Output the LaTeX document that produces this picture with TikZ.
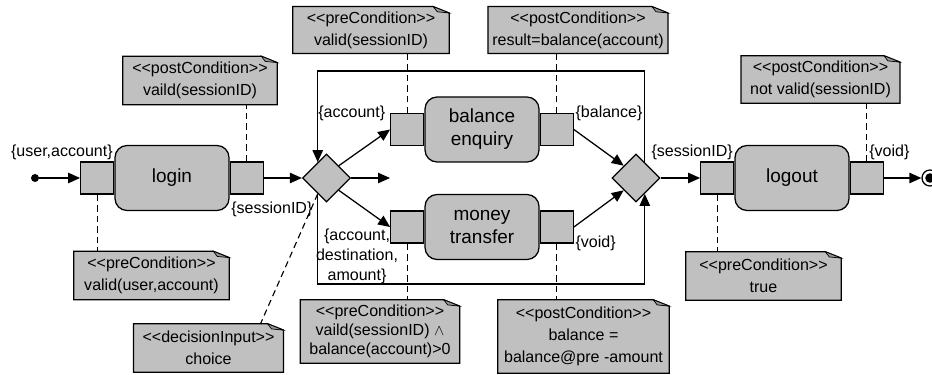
\documentclass[tikz,border=0pt]{standalone}
\usepackage{fontspec}
\setmainfont{Liberation Sans}
\usepackage{tikz}
\usetikzlibrary{arrows.meta}
\usetikzlibrary{shapes.geometric}
\usetikzlibrary{backgrounds}
\definecolor{umlgray}{RGB}{192,192,192}
\definecolor{foldgray}{RGB}{150,150,150}
\newcommand{\stereo}[1]{<{}<#1>{}>}
\newcommand{\dogear}[1]{%
  \filldraw[fill=umlgray,line width=0.9pt] (#1.south west) -- (#1.north west) -- ([xshift=-0.4cm]#1.north east)
    -- ([yshift=-0.16cm]#1.north east) -- (#1.south east) -- cycle;
  \filldraw[fill=foldgray,line width=0.5pt] ([xshift=-0.4cm]#1.north east) -- ([yshift=-0.16cm]#1.north east)
    -- ([xshift=-0.3cm,yshift=-0.13cm]#1.north east) -- cycle;}

\begin{document}
\begin{tikzpicture}
\tikzset{>={Triangle[width=2.6mm,length=3mm]}}
\tikzstyle{actionbox}=[rectangle, rounded corners=3mm, draw, fill=umlgray, line width=0.9pt, minimum width=2.85cm, minimum height=1.625cm, align=center, font=\fontsize{13.5}{16.4}\selectfont]
\tikzstyle{pinbox}=[rectangle, draw, fill=umlgray, line width=0.9pt, minimum width=0.825cm, minimum height=0.8cm, inner sep=0pt]
\tikzstyle{decisionbox}=[diamond, draw, fill=umlgray, line width=0.9pt, minimum size=1.2cm, inner sep=0pt]
\tikzstyle{notebox}=[align=center, inner xsep=0.22cm, minimum width=3.85cm, minimum height=1.2cm, font=\fontsize{11.4}{15.6}\selectfont]
\tikzstyle{lbl}=[inner sep=1pt, font=\fontsize{11.4}{14.2}\selectfont]
\tikzstyle{flow}=[->, line width=0.9pt]
\tikzstyle{anchorline}=[dash pattern=on 4.5pt off 3pt, line width=0.8pt]

\useasboundingbox (0,0) rectangle (23.3,9.35);

\node[circle, fill=black, minimum size=0.2cm, inner sep=0pt] (start) at (0.875,4.9) {};
\node[actionbox] (login) at (4.3,4.9) {login};
\node[pinbox, anchor=east] (loginin) at (login.west) {};
\node[pinbox, anchor=west] (loginout) at (login.east) {};
\node[decisionbox] (d1) at (8.1625,4.9) {};
\coordinate (stub) at (9.75,4.9);
\node[actionbox] (bal) at (12.05,6.1125) {balance\\enquiry};
\node[pinbox, anchor=east] (balin) at (bal.west) {};
\node[pinbox, anchor=west] (balout) at (bal.east) {};
\node[actionbox] (money) at (12.05,3.675) {money\\transfer};
\node[pinbox, anchor=east] (monin) at (money.west) {};
\node[pinbox, anchor=west] (monout) at (money.east) {};
\node[decisionbox] (d2) at (15.9,4.9) {};
\node[actionbox] (logout) at (19.8,4.9) {logout};
\node[pinbox, anchor=east] (logoutin) at (logout.west) {};
\node[pinbox, anchor=west] (logoutout) at (logout.east) {};
\node[circle, draw, fill=white, line width=0.9pt, minimum size=0.4cm, inner sep=0pt] (final) at (23.25,4.9) {};
\fill (final) circle (0.12);
\coordinate (looptop) at (0,7.575);
\coordinate (loopbot) at (0,2.25);

\node[notebox] (n1) at (5.0,7.3375) {\stereo{postCondition}\\vaild(sessionID)};
\node[notebox, minimum width=3.875cm] (n2) at (3.7875,2.4625) {\stereo{preCondition}\\valid(user,account)};
\node[notebox, minimum width=3.9cm, minimum height=1.15cm] (n3) at (9.275,8.6) {\stereo{preCondition}\\valid(sessionID)};
\node[notebox, inner xsep=0.1cm, minimum height=1.15cm] (n4) at (14.45,8.6) {\stereo{postCondition}\\result=balance(account)};
\node[notebox, minimum height=1.575cm, font=\fontsize{11.4}{13.5}\selectfont] (n5) at (9.5,1.0625) {\stereo{preCondition}\\vaild(sessionID) $\wedge$\\balance(account)>0};
\node[notebox, inner xsep=0.15cm, minimum height=1.825cm] (n6) at (14.5875,0.9375) {\stereo{postCondition}\\balance =\\balance@pre -amount};
\node[notebox, minimum width=3.875cm, minimum height=1.175cm] (n7) at (20.5125,7.3625) {\stereo{postCondition}\\not valid(sessionID)};
\node[notebox, minimum width=3.875cm] (n8) at (19.0875,2.45) {\stereo{preCondition}\\true};
\node[notebox, minimum width=3.475cm] (n9) at (5.2125,0.65) {\stereo{decisionInput}\\choice};

\node[lbl, anchor=south east] (lua) at (loginin.north east) {\{user,account\}};
\node[lbl, anchor=north west] (lsid) at ([yshift=-0.15cm]loginout.south west) {\{sessionID\}};
\node[lbl, anchor=east] (lacc) at ([xshift=-0.08cm]balin.north west) {\{account\}};
\node[lbl, anchor=west] (lbal) at (balout.north east) {\{balance\}};
\node[lbl, anchor=north east, align=center] (lmin) at ([xshift=0.24cm]monin.west) {\{account,\\destination,\\amount\}};
\node[lbl, anchor=west] (lvoid) at (monout.south east) {\{void\}};
\node[lbl, anchor=south east] (lsid2) at (logoutin.north east) {\{sessionID\}};
\node[lbl, anchor=south west] (lvoid2) at ([xshift=0.45cm]logoutout.north west) {\{void\}};

\draw[flow] (start) -- (loginin);
\draw[flow] (loginout) -- (d1);
\draw[flow] (d1) -- (stub);
\draw[flow] (d1.north east) -- (balin.west);
\draw[flow] (d1.south east) -- (monin.west);
\draw[flow] (balout.east) -- (d2.north west);
\draw[flow] (monout.east) -- (d2.south west);
\draw[flow] (d2) -- (logoutin);
\draw[flow] (logoutout) -- (final);
\draw[flow] (d2.61) |- (d1.119 |- looptop) -- (d1.119);
\draw[flow] (d1.241) |- (d2.299 |- loopbot) -- (d2.299);

\draw[anchorline] (loginout.north) -- (loginout.north |- n1.south);
\draw[anchorline] (loginin.south) -- (loginin.south |- n2.north);
\draw[anchorline] (balin.north) -- (balin.north |- n3.south);
\draw[anchorline] (balout.north) -- (balout.north |- n4.south);
\draw[anchorline] (monin.south) -- (monin.south |- n5.north);
\draw[anchorline] (monout.south) -- (monout.south |- n6.north);
\draw[anchorline] (logoutout.north) -- (logoutout.north |- n7.south);
\draw[anchorline] (logoutin.south) -- (logoutin.south |- n8.north);
\draw[anchorline] (d1.241) -- ([xshift=-0.575cm]n9.north east);

\begin{scope}[on background layer]
\foreach \n in {n1,n2,n3,n4,n5,n6,n7,n8,n9} {\dogear{\n}}
\end{scope}
\end{tikzpicture}
\end{document}
